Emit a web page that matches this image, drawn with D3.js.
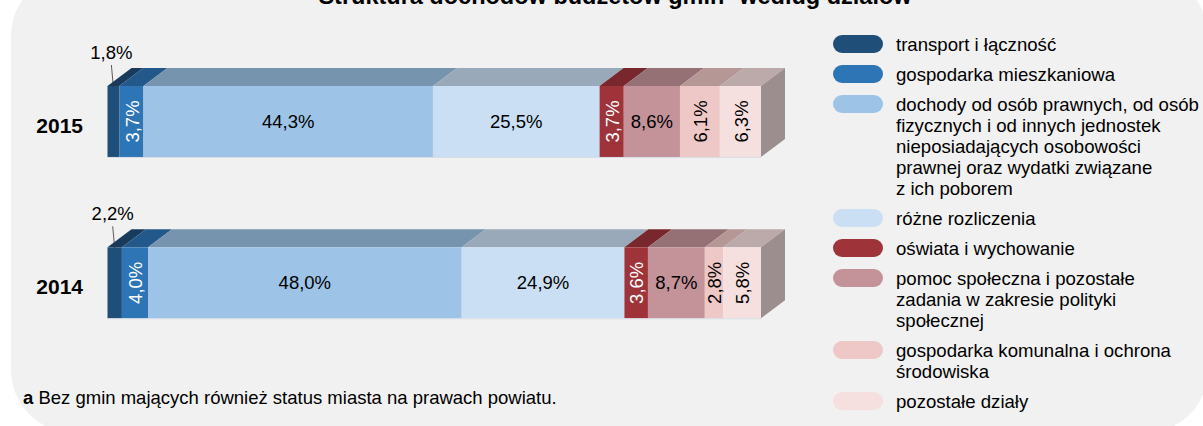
<!DOCTYPE html>
<html lang="pl">
<head>
    <meta charset="UTF-8">
    <title>Struktura dochodów budżetów gmin</title>
    <script src="https://cdn.jsdelivr.net/npm/d3@7"></script>
    <style>
        body { margin: 0; background: #fff; }
        svg text { font-family: Arial, "Liberation Sans", sans-serif; fill: #000; }
    </style>
</head>
<body>
<script>
    // dane
    var years = ["2015", "2014"];
    var categories = [
        "transport i łączność",
        "gospodarka mieszkaniowa",
        "dochody od osób prawnych, od osób\nfizycznych i od innych jednostek\nnieposiadających osobowości\nprawnej oraz wydatki związane\nz ich poborem",
        "różne rozliczenia",
        "oświata i wychowanie",
        "pomoc społeczna i pozostałe\nzadania w zakresie polityki\nspołecznej",
        "gospodarka komunalna i ochrona\nśrodowiska",
        "pozostałe działy"
    ];
    var values2015 = [1.8, 3.7, 44.3, 25.5, 3.7, 8.6, 6.1, 6.3];
    var values2014 = [2.2, 4.0, 48.0, 24.9, 3.6, 8.7, 2.8, 5.8];
    var colors = ["#1f4e79", "#2e75b6", "#9dc3e6", "#cadff3", "#9e343a", "#c4939a", "#eec8c6", "#f6e0df"];
    var valuesByYear = {"2015": values2015, "2014": values2014};

    var W = 1203, H = 426;
    var depthX = 24, depthY = 18;

    var svg = d3.select("body").append("svg").attr("width", W).attr("height", H);

    // tło panelu
    svg.append("rect").attr("x", 11).attr("y", -27).attr("width", 1197).attr("height", 460)
        .attr("rx", 63).attr("fill", "#f1f1f1");

    // tytuł (obcięty u góry)
    var title = svg.append("text").attr("x", 615).attr("y", 4).attr("text-anchor", "middle")
        .attr("font-size", 23.5).attr("font-weight", "bold");
    title.append("tspan").text("Struktura dochodów budżetów gmin");
    title.append("tspan").attr("font-size", 15).attr("dy", -9).text("a");
    title.append("tspan").attr("dy", 9).text(" według działów");

    var x = d3.scaleLinear().domain([0, 100]).range([107.5, 761]);
    var y = d3.scaleBand().domain(years).range([86, 318.3]).paddingInner(0.56).paddingOuter(0);
    var color = d3.scaleOrdinal().domain(categories).range(colors);

    function shade(c, k) {
        var r = d3.rgb(c);
        return d3.rgb(r.r * k, r.g * k, r.b * k).formatHex();
    }
    function fmt(v) { return d3.format(".1f")(v).replace(".", ",") + "%"; }

    years.forEach(function (yr) {
        var vals = valuesByYear[yr];
        var starts = d3.cumsum([0].concat(vals));
        var segs = vals.map(function (v, i) {
            return {v: v, i: i, x0: x(starts[i]), x1: x(starts[i] + v)};
        });
        var top = y(yr), bh = y.bandwidth(), bottom = top + bh;
        var g = svg.append("g");

        // górne ściany
        g.selectAll("path.top").data(segs).enter().append("path").attr("class", "top")
            .attr("d", function (d) {
                return "M" + d.x0 + "," + top + "L" + d.x1 + "," + top +
                    "L" + (d.x1 + depthX) + "," + (top - depthY) + "L" + (d.x0 + depthX) + "," + (top - depthY) + "Z";
            })
            .attr("fill", function (d) { return shade(color(categories[d.i]), 0.76); });

        // przednie ściany
        g.selectAll("rect.front").data(segs).enter().append("rect").attr("class", "front")
            .attr("x", function (d) { return d.x0; })
            .attr("y", top)
            .attr("width", function (d) { return d.x1 - d.x0; })
            .attr("height", bh)
            .attr("fill", function (d) { return color(categories[d.i]); });

        // boczna ściana
        var last = segs[segs.length - 1];
        g.append("path")
            .attr("d", "M" + last.x1 + "," + top + "L" + (last.x1 + depthX) + "," + (top - depthY) +
                "L" + (last.x1 + depthX) + "," + (bottom - depthY) + "L" + last.x1 + "," + bottom + "Z")
            .attr("fill", shade(color(categories[last.i]), 0.635));

        g.append("line").attr("x1", x(0)).attr("x2", x(100)).attr("y1", bottom + 0.5).attr("y2", bottom + 0.5)
            .attr("stroke", "#d6dde5").attr("stroke-width", 1);

        // etykiety
        segs.forEach(function (d) {
            var cx = (d.x0 + d.x1) / 2, cy = top + bh / 2;
            var fill = (d.i === 1 || d.i === 4) ? "#fff" : "#000";
            if (d.i === 0) {
                g.append("line").attr("x1", cx).attr("y1", top + 1).attr("x2", cx - 2).attr("y2", top - 21)
                    .attr("stroke", "#333").attr("stroke-width", 0.8);
                g.append("text").attr("x", cx - 2).attr("y", top - 27).attr("text-anchor", "middle")
                    .attr("font-size", 18.5).text(fmt(d.v));
            } else if (d.v < 7) {
                g.append("text").attr("transform", "translate(" + (cx + 0.5) + "," + cy + ") rotate(-90)")
                    .attr("text-anchor", "middle").attr("dy", "0.36em").attr("font-size", 18.5)
                    .style("fill", fill).text(fmt(d.v));
            } else {
                g.append("text").attr("x", cx).attr("y", cy).attr("dy", "0.36em").attr("text-anchor", "middle")
                    .attr("font-size", 18.5).style("fill", fill).text(fmt(d.v));
            }
        });

        // rok
        svg.append("text").attr("x", 83).attr("y", top + bh / 2 + 4).attr("dy", "0.36em").attr("text-anchor", "end")
            .attr("font-size", 21).attr("font-weight", "bold").text(yr);
    });

    // legenda
    var lineH = 21, gap = 9;
    var ly = 51;
    categories.forEach(function (c) {
        var lines = c.split("\n");
        var lg = svg.append("g");
        lg.append("rect").attr("x", 833).attr("y", ly - 16).attr("width", 50).attr("height", 18)
            .attr("rx", 9).attr("fill", color(c));
        var t = lg.append("text").attr("x", 896).attr("y", ly).attr("font-size", 18.6);
        lines.forEach(function (l, k) {
            t.append("tspan").attr("x", 896).attr("dy", k === 0 ? 0 : lineH).text(l);
        });
        ly += lines.length * lineH + gap;
    });

    // przypis
    var foot = svg.append("text").attr("x", 23).attr("y", 404).attr("font-size", 18.5);
    foot.append("tspan").attr("font-weight", "bold").text("a");
    foot.append("tspan").text(" Bez gmin mających również status miasta na prawach powiatu.");
</script>
</body>
</html>
